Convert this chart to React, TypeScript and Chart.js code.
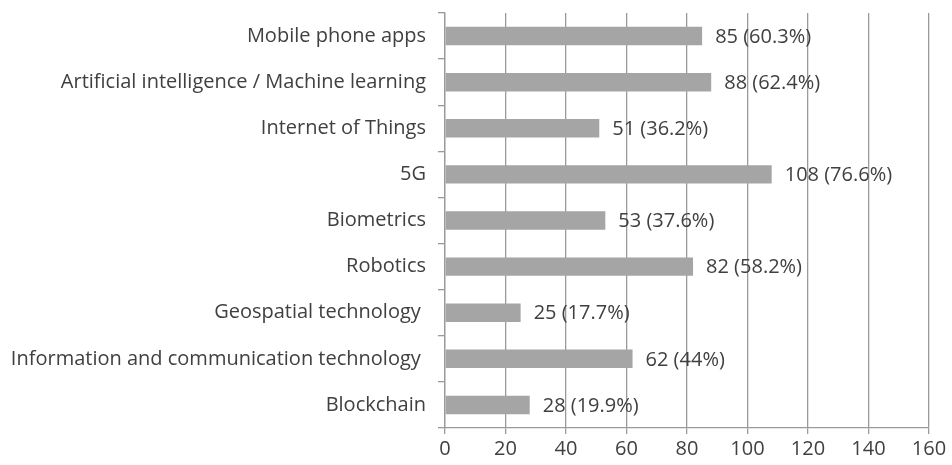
import React, { useEffect, useRef } from "react";
import { Chart, registerables } from "chart.js";

Chart.register(...registerables);

const categories = [
  "Mobile phone apps",
  "Artificial intelligence / Machine learning",
  "Internet of Things",
  "5G",
  "Biometrics",
  "Robotics",
  "Geospatial technology ",
  "Information and communication technology ",
  "Blockchain",
];
const counts = [85, 88, 51, 108, 53, 82, 25, 62, 28];
const percents = ["60.3%", "62.4%", "36.2%", "76.6%", "37.6%", "58.2%", "17.7%", "44%", "19.9%"];
const xTicks = [0, 20, 40, 60, 80, 100, 120, 140, 160];

const FONT = "'Open Sans', 'DejaVu Sans', sans-serif";
const TEXT = "#404040";
const SIZE = 20;

const valueLabels = {
  id: "valueLabels",
  afterDatasetsDraw(chart: any) {
    const ctx = chart.ctx;
    const meta = chart.getDatasetMeta(0);
    ctx.save();
    ctx.font = `${SIZE}px ${FONT}`;
    ctx.fillStyle = TEXT;
    ctx.textAlign = "left";
    ctx.textBaseline = "middle";
    meta.data.forEach((bar: any, i: number) => {
      ctx.fillText(`${counts[i]} (${percents[i]})`, bar.x + 13, bar.y + 1);
    });
    ctx.restore();
  },
};

export default function App() {
  const ref = useRef<HTMLCanvasElement>(null);
  useEffect(() => {
    document.body.style.margin = "0";
    const chart = new Chart(ref.current!, {
      type: "bar",
      data: {
        labels: categories,
        datasets: [
          {
            data: counts,
            backgroundColor: "#a5a5a5",
            borderWidth: 0,
            barPercentage: 0.8,
            categoryPercentage: 0.5,
          },
        ],
      },
      plugins: [valueLabels],
      options: {
        indexAxis: "y",
        animation: false,
        responsive: false,
        layout: { padding: { top: 13, right: 23, left: 0, bottom: 0 } },
        plugins: { legend: { display: false }, tooltip: { enabled: false } },
        scales: {
          x: {
            min: 0,
            max: 160,
            afterBuildTicks(scale: any) {
              scale.ticks = xTicks.map((v) => ({ value: v }));
            },
            afterFit(scale: any) {
              scale.height = 37;
            },
            grid: {
              color: "#9a9a9a",
              lineWidth: 1.3,
              drawTicks: true,
              tickLength: 6,
            },
            border: { color: "#9a9a9a", width: 1.3 },
            ticks: {
              color: TEXT,
              font: { family: FONT, size: SIZE },
              padding: 3,
              maxRotation: 0,
            },
          },
          y: {
            afterFit(scale: any) {
              scale.width = 445;
              scale.paddingTop = 0;
              scale.paddingBottom = 0;
            },
            grid: {
              offset: true,
              drawOnChartArea: false,
              drawTicks: true,
              tickLength: 7,
              color: "#9a9a9a",
              lineWidth: 1.3,
            },
            border: { color: "#9a9a9a", width: 1.3 },
            ticks: {
              color: TEXT,
              font: { family: FONT, size: SIZE },
              padding: 12,
              autoSkip: false,
            },
          },
        },
      },
    });
    return () => chart.destroy();
  }, []);
  return (
    <div style={{ width: 952, height: 465, background: "#fff" }}>
      <canvas ref={ref} width={952} height={465} />
    </div>
  );
}
